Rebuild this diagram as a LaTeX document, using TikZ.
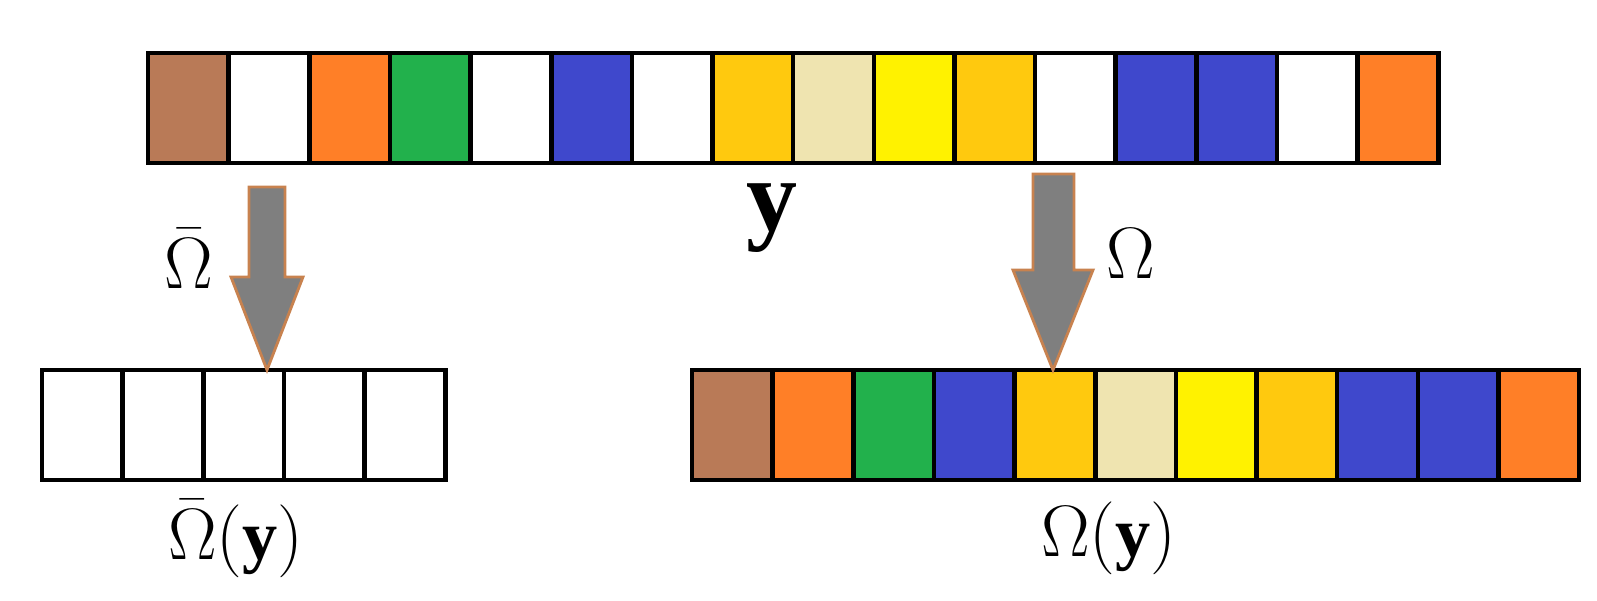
\documentclass[tikz,border=0pt]{standalone}
\usepackage{fontspec}
\newfontfamily\yfont{Liberation Serif}
\usepackage{tikz}
\usepackage{xcolor}
\definecolor{cellBrown}{HTML}{B97A57}
\definecolor{cellOrange}{HTML}{FF7F27}
\definecolor{cellGreen}{HTML}{22B14C}
\definecolor{cellBlue}{HTML}{3F48CC}
\definecolor{cellGold}{HTML}{FFC90E}
\definecolor{cellTan}{HTML}{EFE4B0}
\definecolor{cellYellow}{HTML}{FFF200}
\definecolor{arrowGray}{HTML}{7F7F7F}
\definecolor{arrowEdge}{HTML}{C8824F}
\usetikzlibrary{positioning}
\newcommand{\vecy}{{\yfont\bfseries y}}

\begin{document}
\begin{tikzpicture}[x=0.01cm, y=-0.01cm, node distance=0pt,
  cell/.style={rectangle, draw, line width=1.3pt, outer sep=0pt, inner sep=0pt,
    minimum width=0.806cm, minimum height=1.1cm},
  blockArrow/.style={fill=arrowGray, draw=arrowEdge, line width=0.8pt},
  lbl/.style={anchor=base, inner sep=0pt, font=\fontsize{20}{24}\selectfont}]
  \useasboundingbox (0,0) rectangle (1597,600);
  % vector y
  \node[cell, fill=cellBrown, anchor=north west] (t1) at (148,53) {};
  \node[cell, fill=white, right=of t1] (t2) {};
  \node[cell, fill=cellOrange, right=of t2] (t3) {};
  \node[cell, fill=cellGreen, right=of t3] (t4) {};
  \node[cell, fill=white, right=of t4] (t5) {};
  \node[cell, fill=cellBlue, right=of t5] (t6) {};
  \node[cell, fill=white, right=of t6] (t7) {};
  \node[cell, fill=cellGold, right=of t7] (t8) {};
  \node[cell, fill=cellTan, right=of t8] (t9) {};
  \node[cell, fill=cellYellow, right=of t9] (t10) {};
  \node[cell, fill=cellGold, right=of t10] (t11) {};
  \node[cell, fill=white, right=of t11] (t12) {};
  \node[cell, fill=cellBlue, right=of t12] (t13) {};
  \node[cell, fill=cellBlue, right=of t13] (t14) {};
  \node[cell, fill=white, right=of t14] (t15) {};
  \node[cell, fill=cellOrange, right=of t15] (t16) {};
  \node[anchor=base, inner sep=0pt, font=\fontsize{29}{33}\selectfont] (ylab) at (772,230) {\vecy};
  % empty part
  \node[cell, fill=white, anchor=north west] (e1) at (42,370) {};
  \node[cell, fill=white, right=of e1] (e2) {};
  \node[cell, fill=white, right=of e2] (e3) {};
  \node[cell, fill=white, right=of e3] (e4) {};
  \node[cell, fill=white, right=of e4] (e5) {};
  \node[lbl] (emptylab) at (236,559) {$\bar{\Omega}(\mbox{\vecy})$};
  % filled part
  \node[cell, fill=cellBrown, anchor=north west] (f1) at (692,370) {};
  \node[cell, fill=cellOrange, right=of f1] (f2) {};
  \node[cell, fill=cellGreen, right=of f2] (f3) {};
  \node[cell, fill=cellBlue, right=of f3] (f4) {};
  \node[cell, fill=cellGold, right=of f4] (f5) {};
  \node[cell, fill=cellTan, right=of f5] (f6) {};
  \node[cell, fill=cellYellow, right=of f6] (f7) {};
  \node[cell, fill=cellGold, right=of f7] (f8) {};
  \node[cell, fill=cellBlue, right=of f8] (f9) {};
  \node[cell, fill=cellBlue, right=of f9] (f10) {};
  \node[cell, fill=cellOrange, right=of f10] (f11) {};
  \node[lbl] (filledlab) at (1109,556) {$\Omega(\mbox{\vecy})$};
  % maps
  \draw[blockArrow] (249,187) -- (285,187) -- (285,277) -- (303,277) -- (267,370)
    -- (231,277) -- (249,277) -- cycle;
  \node[lbl] (omegabar) at (189,288) {$\bar{\Omega}$};
  \draw[blockArrow] (1033,174) -- (1074,174) -- (1074,270) -- (1093,270) -- (1053,370)
    -- (1013,270) -- (1033,270) -- cycle;
  \node[lbl] (omega) at (1131,278) {$\Omega$};
\end{tikzpicture}
\end{document}
